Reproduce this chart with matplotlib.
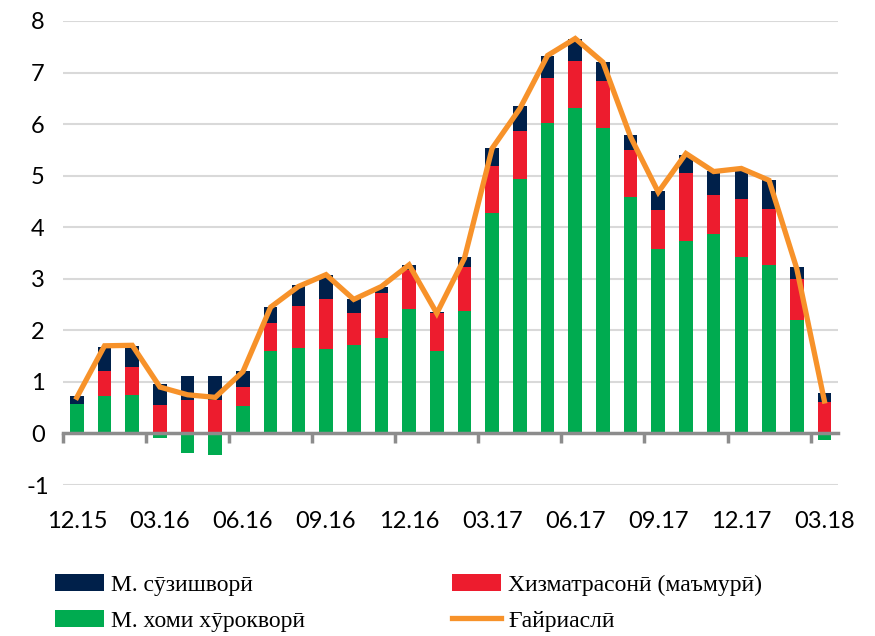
import numpy as np
import matplotlib
matplotlib.use("Agg")
import matplotlib.pyplot as plt
from matplotlib.ticker import FixedLocator

plt.rcParams["axes.unicode_minus"] = False

# monthly periods 12.15 .. 03.18
months = ["12.15", "01.16", "02.16", "03.16", "04.16", "05.16", "06.16",
          "07.16", "08.16", "09.16", "10.16", "11.16", "12.16", "01.17",
          "02.17", "03.17", "04.17", "05.17", "06.17", "07.17", "08.17",
          "09.17", "10.17", "11.17", "12.17", "01.18", "02.18", "03.18"]

food = [0.58, 0.73, 0.75, -0.08, -0.38, -0.42, 0.54, 1.60, 1.66, 1.64,
        1.72, 1.85, 2.42, 1.59, 2.38, 4.27, 4.94, 6.02, 6.31, 5.92,
        4.59, 3.57, 3.73, 3.86, 3.43, 3.26, 2.21, -0.12]
services = [0.00, 0.48, 0.54, 0.56, 0.65, 0.64, 0.36, 0.55, 0.81, 0.96,
            0.62, 0.88, 0.75, 0.74, 0.85, 0.92, 0.93, 0.88, 0.92, 0.91,
            0.91, 0.77, 1.32, 0.77, 1.12, 1.10, 0.78, 0.61]
fuel = [0.15, 0.47, 0.41, 0.39, 0.46, 0.47, 0.31, 0.30, 0.41, 0.47,
        0.26, 0.12, 0.10, 0.02, 0.20, 0.34, 0.49, 0.43, 0.42, 0.37,
        0.29, 0.37, 0.35, 0.47, 0.56, 0.55, 0.24, 0.17]
core = [0.70, 1.70, 1.71, 0.90, 0.75, 0.70, 1.20, 2.45, 2.85, 3.08,
        2.60, 2.85, 3.27, 2.33, 3.40, 5.53, 6.30, 7.33, 7.66, 7.20,
        5.75, 4.68, 5.43, 5.08, 5.14, 4.91, 3.20, 0.63]

lbl_fuel = "М. сӯзишворӣ"
lbl_serv = "Хизматрасонӣ (маъмурӣ)"
lbl_food = "М. хоми хӯрокворӣ"
lbl_core = "Ғайриаслӣ"

c_fuel = "#00204A"
c_serv = "#ED1C2E"
c_food = "#00AB50"
c_core = "#F7922A"

fig = plt.figure(figsize=(8.75, 6.36), dpi=100)
ax = fig.add_axes([0.072, 0.2374, 0.886, 0.7296])

x = np.arange(len(months))
pos_base = np.zeros(len(x))
neg_base = np.zeros(len(x))
handles = {}
for name, vals, col in [("food", food, c_food), ("serv", services, c_serv),
                        ("fuel", fuel, c_fuel)]:
    v = np.array(vals)
    bottom = np.where(v >= 0, pos_base, neg_base)
    handles[name] = ax.bar(x, v, 0.49, bottom=bottom, color=col, zorder=2)
    pos_base = pos_base + np.where(v >= 0, v, 0)
    neg_base = neg_base + np.where(v < 0, v, 0)

handles["core"], = ax.plot(x, core, color=c_core, lw=3.8, zorder=4,
                           solid_joinstyle="miter")

ax.set_xlim(-0.5, len(x) - 0.5)
ax.set_ylim(-1, 8)
ax.set_yticks(range(-1, 9))
ax.yaxis.grid(True, color="#D9D9D9", lw=1.5, zorder=0)
ax.set_axisbelow(True)

for s in ["top", "right", "left"]:
    ax.spines[s].set_visible(False)
ax.spines["bottom"].set_position(("data", 0))
ax.spines["bottom"].set_color("#8C8C8C")
ax.spines["bottom"].set_linewidth(2.5)
ax.spines["bottom"].set_zorder(3)

ax.set_xticks(x[::3])
ax.set_xticklabels(months[::3])
ax.xaxis.set_minor_locator(FixedLocator(np.arange(-0.5, len(x), 3)))
ax.tick_params(axis="x", which="major", length=0, pad=56)
ax.tick_params(axis="x", which="minor", length=7, width=2.5, color="#8C8C8C")
ax.tick_params(axis="y", length=0, pad=18)
for t in ax.get_xticklabels() + ax.get_yticklabels():
    t.set_fontfamily("Lato")
    t.set_fontsize(17)
for t in ax.get_yticklabels():
    t.set_horizontalalignment("center")

# column-first fill: col 1 = fuel, food; col 2 = services, core
leg = fig.legend([handles["fuel"], handles["food"], handles["serv"], handles["core"]],
                 [lbl_fuel, lbl_food, lbl_serv, lbl_core],
                 loc="upper left", bbox_to_anchor=(0.038, 0.131),
                 ncol=2, frameon=False, columnspacing=6.2,
                 handlelength=2.1, handleheight=0.75, handletextpad=0.3,
                 labelspacing=0.6,
                 prop={"family": ["Liberation Serif", "DejaVu Serif"], "size": 17})

fig.savefig("out.png", dpi=100)
